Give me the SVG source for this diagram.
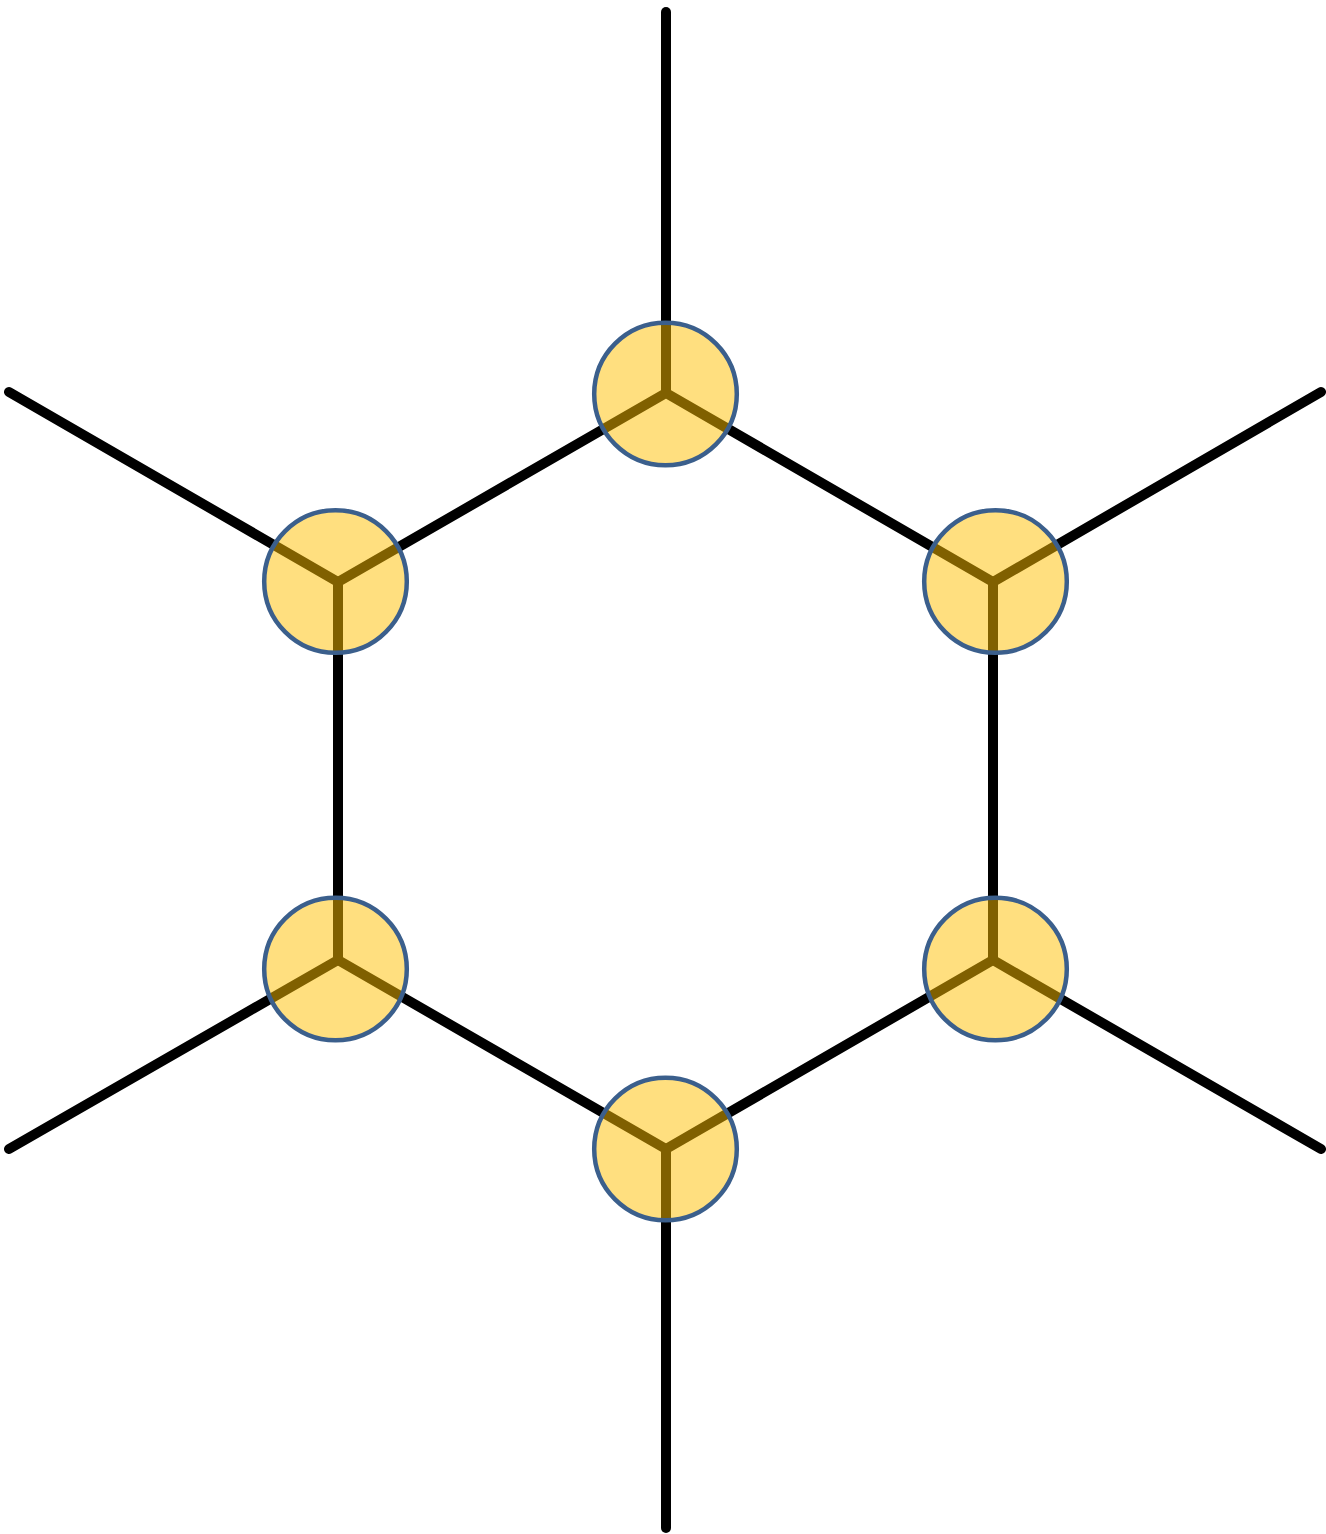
<svg xmlns="http://www.w3.org/2000/svg" width="1326" height="1534" viewBox="0 0 1326 1534">
<style>
.edge{stroke:#000;stroke-width:10;stroke-linecap:round;stroke-linejoin:round;fill:none}
.atom circle{fill:#FFC000;fill-opacity:0.5;stroke:#3B5F8C;stroke-width:4.5}
</style>
<rect width="1326" height="1534" fill="#fff"/>
<g id="connectors">
<path class="edge" d="M666,393 L993,582 L993,960 L666,1149 L338,960 L338,582 Z"/>
<line class="edge" x1="666" y1="393" x2="666" y2="12"/>
<line class="edge" x1="666" y1="1149" x2="666" y2="1528"/>
<line class="edge" x1="338" y1="582" x2="9" y2="392"/>
<line class="edge" x1="993" y1="582" x2="1321" y2="392"/>
<line class="edge" x1="338" y1="960" x2="9" y2="1149"/>
<line class="edge" x1="993" y1="960" x2="1321" y2="1149"/>
</g>
<g id="n1" class="atom"><circle cx="665.5" cy="394" r="71.3"/></g>
<g id="n2" class="atom"><circle cx="995.5" cy="581.5" r="71.3"/></g>
<g id="n3" class="atom"><circle cx="995.5" cy="969" r="71.3"/></g>
<g id="n4" class="atom"><circle cx="665.5" cy="1149" r="71.3"/></g>
<g id="n5" class="atom"><circle cx="335.5" cy="969" r="71.3"/></g>
<g id="n6" class="atom"><circle cx="335.5" cy="581.5" r="71.3"/></g>
</svg>
